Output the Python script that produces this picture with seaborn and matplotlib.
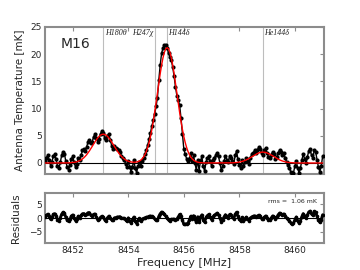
import numpy as np
import pandas as pd
import matplotlib
matplotlib.use("Agg")
import matplotlib.pyplot as plt
import seaborn as sns

# channel grid: 8451.00 ... 8461.00 MHz in 0.05 MHz steps
freq_start = 8451.0
freq_step = 0.05

# observed spectrum [mK]
spec = [0.4, 1.0, 1.4, 0.6, -0.5, 0.2, 1.3, 1.6, 0.7, -0.6,
        -1.0, 0.1, 1.4, 2.1, 1.7, 0.3, -0.8, -1.2, -0.4, 0.8,
        1.2, 0.1, -0.8, -0.1, 1.0, 0.6, 1.5, 2.3, 2.6, 2.2,
        3.0, 3.8, 4.2, 3.6, 3.9, 4.8, 5.3, 4.6, 3.9, 4.5,
        5.4, 5.9, 5.6, 4.6, 4.2, 5.0, 5.3, 4.3, 3.2, 2.6,
        3.1, 2.8, 2.6, 2.3, 2.0, 1.2, 0.9, 0.6, -0.1, -0.7,
        0.4, -0.8, -1.6, -0.7, 0.5, -1.0, -1.8, -0.6, 0.2, -0.6,
        0.4, 1.0, 1.6, 2.4, 3.3, 4.4, 5.6, 6.8, 7.9, 9.0,
        10.4, 12.0, 15.3, 18.0, 20.2, 21.1, 21.7, 21.6, 21.2, 20.2,
        19.4, 18.9, 17.6, 16.0, 14.0, 12.4, 11.5, 10.6, 8.2, 5.4,
        2.6, 1.6, 0.8, 0.3, 0.8, 1.8, 0.4, 1.4, 0.0, -1.3,
        0.6, -1.4, 0.4, 1.2, -0.6, -1.5, 0.2, 0.9, 1.3, 0.4,
        -0.6, 0.5, 1.0, 1.4, 1.8, 1.2, 0.0, -1.3, -0.6, 0.4,
        1.2, 0.6, 0.1, 1.3, 1.0, 0.3, -0.2, 1.4, 2.2, 0.7,
        -0.3, -0.9, 0.5, -0.6, 0.2, 0.9, 0.3, -0.2, 1.0, 1.6,
        1.9, 2.3, 1.8, 2.4, 2.9, 2.6, 1.8, 1.5, 2.3, 2.7,
        1.9, 1.1, 0.9, 1.5, 2.1, 1.6, 0.8, 1.1, 1.9, 2.4,
        2.0, 1.5, 1.8, 1.0, 0.2, -0.4, -0.9, -1.6, -2.0, -1.8,
        -0.6, 0.4, -0.9, -1.8, -1.0, 0.5, 1.6, 0.8, 0.0, 1.1,
        2.2, 2.5, 1.4, 1.0, 2.4, 2.0, 0.6, -0.8, -1.6, -0.6,
        1.2]

# fitted model [mK]
model = [0.0, 0.0, 0.0, 0.0, 0.0, 0.0, 0.0, 0.0, 0.0, 0.0,
         0.0, 0.0, 0.0, 0.0, 0.0, 0.0, 0.01, 0.02, 0.04, 0.05,
         0.08, 0.12, 0.17, 0.23, 0.32, 0.43, 0.58, 0.76, 0.97, 1.23,
         1.52, 1.86, 2.23, 2.63, 3.05, 3.47, 3.88, 4.27, 4.61, 4.90,
         5.12, 5.25, 5.30, 5.25, 5.12, 4.90, 4.61, 4.27, 3.88, 3.47,
         3.05, 2.63, 2.23, 1.86, 1.52, 1.23, 0.97, 0.76, 0.58, 0.43,
         0.33, 0.24, 0.19, 0.16, 0.14, 0.15, 0.19, 0.26, 0.37, 0.53,
         0.78, 1.11, 1.56, 2.13, 2.87, 3.78, 4.88, 6.17, 7.64, 9.28,
         11.03, 12.86, 14.69, 16.43, 18.00, 19.34, 20.35, 20.98, 21.20, 20.98,
         20.35, 19.34, 18.00, 16.43, 14.69, 12.86, 11.03, 9.28, 7.64, 6.17,
         4.88, 3.78, 2.87, 2.13, 1.56, 1.11, 0.78, 0.53, 0.36, 0.24,
         0.15, 0.10, 0.06, 0.04, 0.02, 0.01, 0.01, 0.0, 0.0, 0.0,
         0.0, 0.0, 0.0, 0.0, 0.0, 0.0, 0.0, 0.0, 0.0, 0.0,
         0.0, 0.0, 0.0, 0.01, 0.02, 0.03, 0.05, 0.06, 0.09, 0.12,
         0.16, 0.22, 0.29, 0.37, 0.46, 0.57, 0.70, 0.84, 0.99, 1.15,
         1.31, 1.46, 1.61, 1.74, 1.85, 1.93, 1.98, 2.00, 1.98, 1.93,
         1.85, 1.74, 1.61, 1.46, 1.31, 1.15, 0.99, 0.84, 0.70, 0.57,
         0.46, 0.37, 0.29, 0.22, 0.16, 0.12, 0.09, 0.06, 0.05, 0.03,
         0.02, 0.01, 0.0, 0.0, 0.0, 0.0, 0.0, 0.0, 0.0, 0.0,
         0.0, 0.0, 0.0, 0.0, 0.0, 0.0, 0.0, 0.0, 0.0, 0.0,
         0.0]

# recombination line positions
line_names = ["H180θ", "H247χ", "H144δ", "He144δ"]
line_freqs = [8453.10, 8454.98, 8455.39, 8458.85]
line_align = ["left", "right", "left", "left"]

freq = freq_start + freq_step * np.arange(len(spec))
df = pd.DataFrame({"freq": freq, "spec": spec, "model": model})
df["resid"] = df["spec"] - df["model"]

sns.set_style("white")
plt.rcParams["font.family"] = ["DejaVu Sans"]
spine_col = "#8c8c8c"

fig = plt.figure(figsize=(3.6, 2.7), dpi=100)
ax = fig.add_axes([0.125, 0.356, 0.775, 0.544])
axr = fig.add_axes([0.125, 0.10, 0.775, 0.185])

for f, name, ha in zip(line_freqs, line_names, line_align):
    ax.axvline(f, color="#bdbdbd", lw=0.8, zorder=1)
    dx = 0.06 if ha == "left" else -0.06
    ax.text(f + dx, 24.6, name, ha=ha, va="top", fontsize=5.8,
            family="Liberation Serif", style="italic")

ax.axhline(0, color="black", lw=0.8, zorder=2)
sns.lineplot(data=df, x="freq", y="spec", ax=ax, color="black", lw=1.0,
             marker="o", markersize=3.0, markeredgewidth=0, zorder=3)
sns.lineplot(data=df, x="freq", y="model", ax=ax, color="red", lw=1.0, zorder=4)

axr.axhline(0, color="black", lw=0.8, zorder=2)
sns.lineplot(data=df, x="freq", y="resid", ax=axr, color="black", lw=2.0,
             marker="o", markersize=2.6, markeredgewidth=0, zorder=3)

for a in (ax, axr):
    a.set_xlim(8451.0, 8461.05)
    a.set_xticks([8452, 8454, 8456, 8458, 8460])
    a.tick_params(direction="in", length=3, width=0.8, color=spine_col,
                  labelsize=6.5, top=True, right=True, pad=2)
    for s in a.spines.values():
        s.set_color(spine_col)
        s.set_linewidth(1.5)

ax.set_ylim(-2, 25)
ax.set_yticks([0, 5, 10, 15, 20, 25])
ax.set_xticklabels([])
ax.set_xlabel("")
ax.set_ylabel("Antenna Temperature [mK]", fontsize=7.5, labelpad=4)
ax.text(0.055, 0.885, "M16", transform=ax.transAxes, fontsize=10, va="center")

axr.set_ylim(-9, 9)
axr.set_yticks([-5, 0, 5])
axr.set_ylabel("Residuals", fontsize=7.5, labelpad=6)
axr.set_xlabel("Frequency [MHz]", fontsize=8, labelpad=2)
axr.text(0.975, 0.83, "rms =  1.06 mK", transform=axr.transAxes,
         fontsize=4.5, ha="right", va="center")

fig.savefig("out.png", dpi=100)
